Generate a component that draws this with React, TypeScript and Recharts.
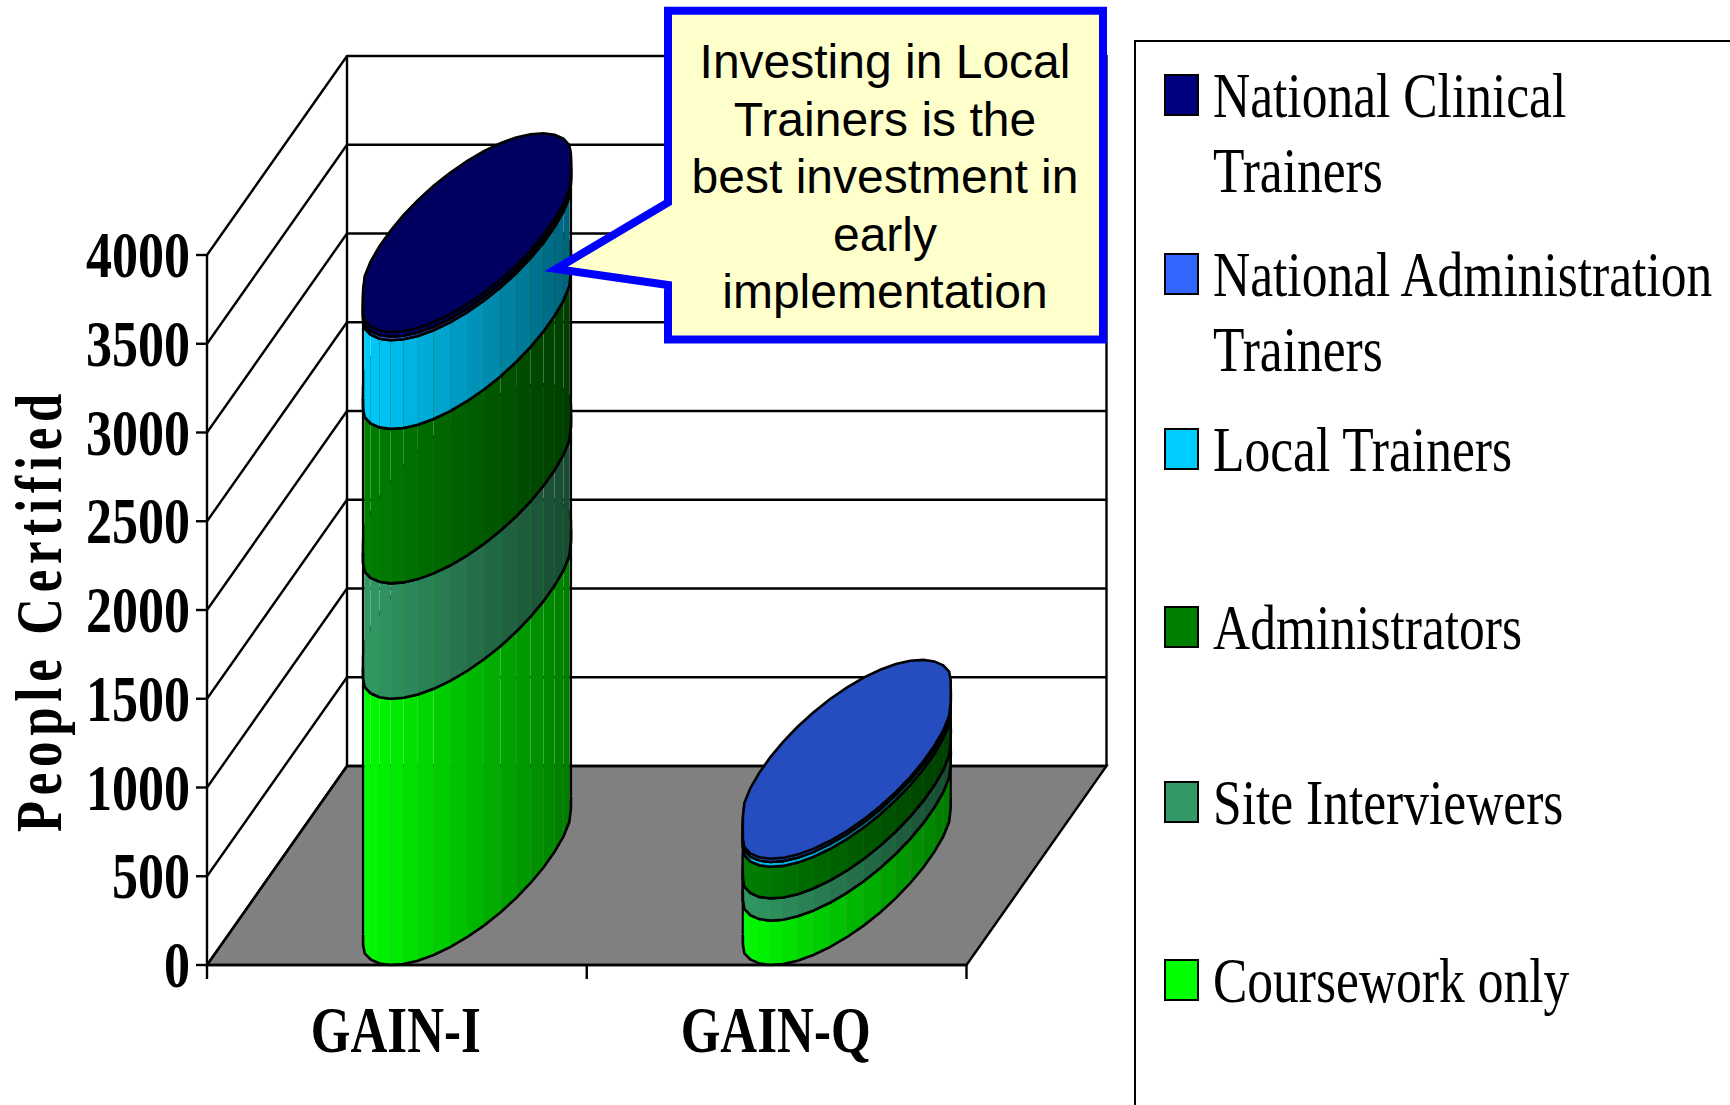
import { BarChart, Bar, XAxis, YAxis, CartesianGrid, Legend } from 'recharts';

const categories = ['GAIN-I', 'GAIN-Q'];
const coursework = [1500, 250];
const siteInterviewers = [650, 125];
const administrators = [870, 178];
const localTrainers = [500, 27];
const nationalAdmin = [20, 18];
const nationalClinical = [25, 0];

const yTicks = [0, 500, 1000, 1500, 2000, 2500, 3000, 3500, 4000];
const seriesNames = ['Coursework only', 'Site Interviewers', 'Administrators', 'Local Trainers', 'National Administration Trainers', 'National Clinical Trainers'];
const seriesColors = ['#00FF00', '#339966', '#008000', '#00CCFF', '#3366FF', '#000080'];
const seriesValues = [coursework, siteInterviewers, administrators, localTrainers, nationalAdmin, nationalClinical];
const legendLines = [['National Clinical', 'Trainers'], ['National Administration', 'Trainers'], ['Local Trainers'], ['Administrators'], ['Site Interviewers'], ['Coursework only']];
const legendColors = [...seriesColors].reverse();
const legendRowY = [95, 274, 449, 627, 802, 980];
const calloutLines = ['Investing in Local', 'Trainers is the', 'best investment in', 'early', 'implementation'];

const rows = categories.map((name, i) => {
  const row: Record<string, any> = { name };
  seriesNames.forEach((s, j) => { row[s] = seriesValues[j][i]; });
  return row;
});

const W = 1730;
const H = 1105;
const DEPTH_X = 140;
const DEPTH_Y = 199;
const SERIF = '"Liberation Serif", serif';
const SANS = '"Liberation Sans", sans-serif';

function shade(hex: string, f: number) {
  const n = parseInt(hex.slice(1), 16);
  const c = [n >> 16, (n >> 8) & 255, n & 255].map(v => Math.round(v * f));
  return `rgb(${c[0]},${c[1]},${c[2]})`;
}

// cylinder slice, the bar rectangle gives the front plane
function Cylinder(props: any) {
  const { x, y, width, height, fill } = props;
  if (!height || height <= 0) return null;
  const vx = 75;
  const vy = DEPTH_Y / 2;
  const wu = width / 2;
  const cx = x + wu + 70;
  const bottom = y + height;
  const t0 = Math.atan2(vx, wu);
  const reach = Math.hypot(wu, vx);
  const halfW = 104;
  const knee = 2 * halfW - reach;
  // the outline in the picture flattens out near its left and right ends
  const soft = (d: number) => {
    const a = Math.abs(d);
    if (a <= knee) return d;
    const s = (a - knee) / (reach - knee);
    return Math.sign(d) * (knee + (reach - knee) * (s - (s * s) / 2));
  };
  const steps = 20;
  const pt = (t: number, base: number) => [cx + soft(wu * Math.cos(t) + vx * Math.sin(t)), base - vy - vy * Math.sin(t)];
  const front = Array.from({ length: steps + 1 }, (_, i) => Math.PI + t0 + (Math.PI * i) / steps);
  const left = cx - halfW;
  const right = cx + halfW;
  const rim = (base: number) => front.map(t => pt(t, base).map(v => v.toFixed(1)).join(',')).join(' ');
  const top = Array.from({ length: 40 }, (_, i) => pt(t0 + (Math.PI * i) / 20, y).map(v => v.toFixed(1)).join(',')).join(' ');
  return (
    <g>
      {front.slice(0, steps).map((t, i) => {
        const a = pt(t, bottom);
        const b = pt(front[i + 1], bottom);
        const c = pt(front[i + 1], y);
        const d = pt(t, y);
        const f = 1 - 0.52 * (((a[0] + b[0]) / 2 - left) / (right - left));
        return <polygon key={i} points={`${a} ${b} ${c} ${d}`} fill={shade(fill, f)} />;
      })}
      <polyline points={rim(bottom)} fill="none" stroke="#000" strokeWidth={2.6} />
      <line x1={left} x2={left} y1={pt(front[0], bottom)[1]} y2={pt(front[0], y)[1]} stroke="#000" strokeWidth={2.2} />
      <line x1={right} x2={right} y1={pt(front[steps], bottom)[1]} y2={pt(front[steps], y)[1]} stroke="#000" strokeWidth={2.2} />
      <polygon points={top} fill={shade(fill, 0.75)} stroke="#000" strokeWidth={2.6} />
    </g>
  );
}

// each gridline runs up the side wall and along the back wall
function WallLine(props: any) {
  const { x1, x2, y1 } = props;
  const bx = x1 + DEPTH_X;
  const by = y1 - DEPTH_Y;
  const isFloor = Math.abs(y1 - 965) < 1;
  const band = (x2 - x1) / categories.length;
  return (
    <g key={props.key} stroke="#000" strokeWidth={2.4}>
      {isFloor && <polygon points={`${x1},${y1} ${x2},${y1} ${x2 + DEPTH_X},${by} ${bx},${by}`} fill="#808080" />}
      <line x1={x1} y1={y1} x2={bx} y2={by} />
      <line x1={bx} y1={by} x2={x2 + DEPTH_X} y2={by} />
      {isFloor && <line x1={bx} y1={by} x2={bx} y2={by - 711} />}
      {isFloor && <line x1={x2 + DEPTH_X} y1={by} x2={x2 + DEPTH_X} y2={by - 711} />}
      {isFloor && categories.map((_, i) => <line key={i} x1={x1 + band * i} x2={x1 + band * i} y1={y1} y2={y1 + 14} />)}
      {isFloor && <line x1={x2} x2={x2} y1={y1} y2={y1 + 14} />}
    </g>
  );
}

function YTick({ y, payload }: any) {
  return (
    <text transform={`translate(190,${y + 22}) scale(0.8,1)`} textAnchor="end" fontFamily={SERIF} fontWeight="bold" fontSize={65} fill="#000">
      {payload.value}
    </text>
  );
}

function XTick({ x, payload }: any) {
  return (
    <text transform={`translate(${x - 1},1052) scale(0.785,1)`} textAnchor="middle" fontFamily={SERIF} fontWeight="bold" fontSize={65} fill="#000">
      {payload.value}
    </text>
  );
}

function YTitle() {
  return (
    <text transform={`translate(60.5,610) rotate(-90) scale(0.78,1)`} textAnchor="middle" fontFamily={SERIF} fontWeight="bold" fontSize={65} letterSpacing={7.5} fill="#000">
      People Certified
    </text>
  );
}

function LegendBox() {
  const left = 1134;
  const top = 40;
  return (
    <svg width={W - left} height={H - top} style={{ display: 'block' }}>
      <path d={`M${W - left} 1 H1 V${H - top}`} fill="none" stroke="#000" strokeWidth={2} />
      {legendLines.map((lines, i) => {
        const cy = legendRowY[i] - top;
        return (
          <g key={i}>
            <rect x={31} y={cy - 20} width={33} height={40} fill={legendColors[i]} stroke="#000" strokeWidth={2} />
            {lines.map((l, j) => (
              <text key={j} transform={`translate(79,${cy + 22 + j * 75}) scale(0.805,1)`} fontFamily={SERIF} fontSize={64} fill="#000">{l}</text>
            ))}
          </g>
        );
      })}
    </svg>
  );
}

export default function App() {
  return (
    <div style={{ position: 'absolute', left: 0, top: 0, width: W, height: H, background: '#fff' }}>
      <BarChart width={W} height={H} data={rows} margin={{ top: 255, right: 763.5, bottom: 0, left: 0 }} barGap={0}>
        <CartesianGrid horizontal={WallLine} vertical={false} />
        <XAxis dataKey="name" height={140} tick={XTick} tickLine={false} axisLine={{ stroke: '#000', strokeWidth: 2.4 }} interval={0} />
        <YAxis width={207} domain={[0, 4000]} ticks={yTicks} tick={YTick} tickSize={11} tickLine={{ stroke: '#000', strokeWidth: 2.4 }} axisLine={{ stroke: '#000', strokeWidth: 2.4 }} interval={0} label={<YTitle />} />
        {seriesNames.map((s, i) => (
          <Bar key={s} dataKey={s} stackId="a" barSize={156} fill={seriesColors[i]} shape={Cylinder} isAnimationActive={false} />
        ))}
        <Legend layout="horizontal" align="center" verticalAlign="middle" content={LegendBox} wrapperStyle={{ left: 1134, top: 40, width: W - 1134, height: H - 40 }} />
      </BarChart>
      <svg width={W} height={H} style={{ position: 'absolute', left: 0, top: 0, pointerEvents: 'none' }}>
        <polygon points="668,10.7 1103,10.7 1103,339.5 668,339.5 668,285 556,269 668,202.5" fill="#FFFFCC" stroke="#0000FF" strokeWidth={8} />
        {calloutLines.map((l, i) => (
          <text key={l} x={885} y={78 + i * 57.6} textAnchor="middle" fontFamily={SANS} fontSize={48} fill="#000">{l}</text>
        ))}
      </svg>
    </div>
  );
}
